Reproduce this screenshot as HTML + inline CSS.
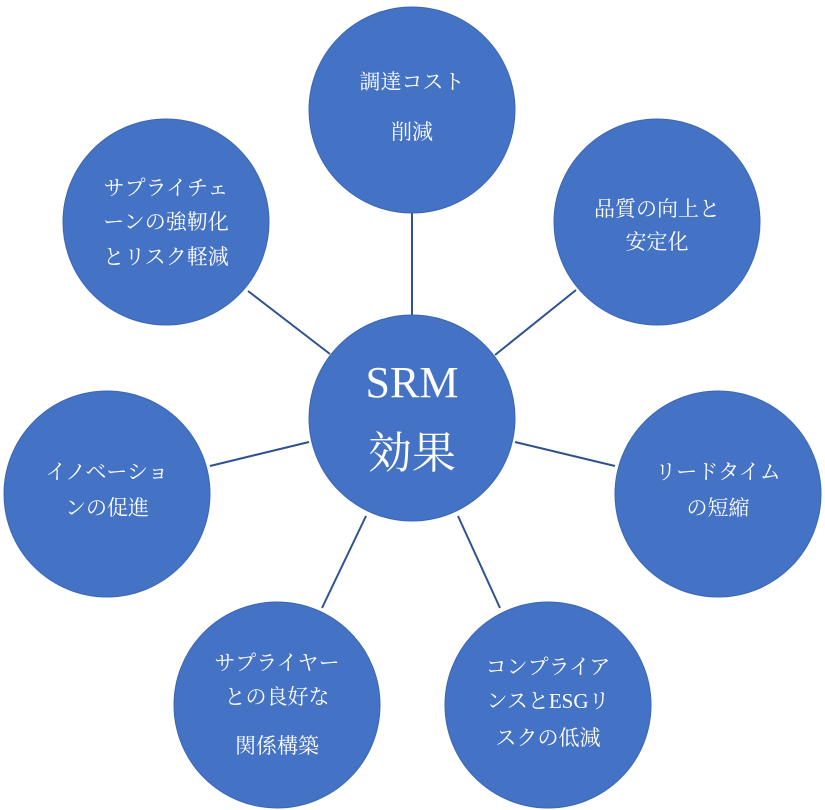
<!DOCTYPE html>
<html><head><meta charset="utf-8"><style>
html,body{margin:0;padding:0;background:#fff;}
svg{display:block;}
text{font-family:"Liberation Serif","Noto Serif CJK SC","Noto Sans CJK JP",serif;fill:#fff;text-anchor:middle;}
</style></head><body>
<svg width="825" height="810" viewBox="0 0 825 810">
<g stroke="#2F528F" stroke-width="2">
<line x1="412" y1="212" x2="412" y2="316"/>
<line x1="576" y1="290" x2="495" y2="355"/>
<line x1="615" y1="466" x2="515" y2="442"/>
<line x1="500" y1="608" x2="458" y2="516"/>
<line x1="322" y1="608" x2="366" y2="516"/>
<line x1="210" y1="466" x2="309" y2="442"/>
<line x1="248" y1="291" x2="330" y2="354"/>
</g>
<g fill="#4472C4" stroke="#3A66B5" stroke-width="1">
<circle cx="412" cy="418" r="103"/>
<circle cx="412" cy="110" r="103"/>
<circle cx="657" cy="222" r="103"/>
<circle cx="718" cy="494" r="103"/>
<circle cx="548" cy="705" r="103"/>
<circle cx="277" cy="705" r="103"/>
<circle cx="107" cy="494" r="103"/>
<circle cx="166" cy="222" r="103"/>
</g>
<g font-size="44"><text x="412" y="397">SRM</text><text x="412" y="468">効果</text></g>
<g font-size="21">
<text x="412" y="89">調達コスト</text><text x="412" y="139">削減</text>
<text x="657" y="216">品質の向上と</text><text x="657" y="249">安定化</text>
<text x="718" y="479">リードタイム</text><text x="718" y="515">の短縮</text>
<text x="548" y="674">コンプライア</text><text x="548" y="708">ンスとESGリ</text><text x="548" y="745">スクの低減</text>
<text x="277" y="670">サプライヤー</text><text x="277" y="704">との良好な</text><text x="277" y="753">関係構築</text>
<text x="107" y="479">イノベーショ</text><text x="107" y="515">ンの促進</text>
<text x="166" y="195">サプライチェ</text><text x="166" y="229">ーンの強靭化</text><text x="166" y="264">とリスク軽減</text>
</g>
</svg>
</body></html>
